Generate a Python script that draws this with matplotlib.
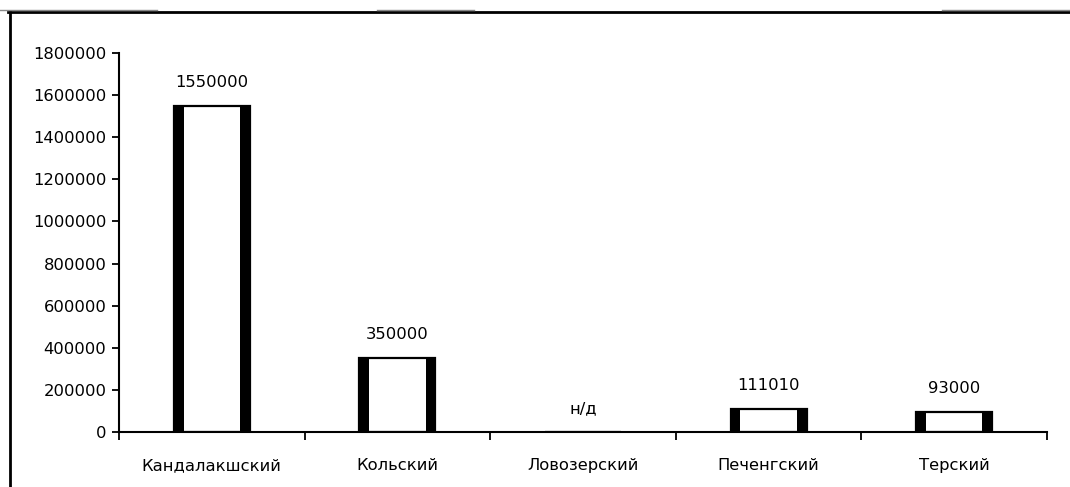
import matplotlib
matplotlib.use('Agg')
import numpy as np
from matplotlib import pyplot as plt
from matplotlib.lines import Line2D

plt.rcParams['font.family'] = ['DejaVu Sans']

districts = ['Кандалакшский', 'Кольский', 'Ловозерский', 'Печенгский', 'Терский']
values = [1550000, 350000, 0, 111010, 93000]
value_labels = ['1550000', '350000', 'н/д', '111010', '93000']
y_ticks = list(range(0, 1800001, 200000))

BAR_W = 0.41
SIDE_W = 0.053
FS = 11.8

fig = plt.figure(figsize=(10.70, 4.87), dpi=100)
ax = fig.add_axes([119 / 1070, 1 - 432 / 487, (1047 - 119) / 1070, (432 - 53) / 487])

x = np.arange(len(districts))
# white body with thin outline, then heavy black sides
ax.bar(x, values, width=BAR_W, color='white', edgecolor='black', linewidth=1.6, zorder=2)
ax.bar(x - BAR_W / 2 + SIDE_W / 2, values, width=SIDE_W, color='black', linewidth=0, zorder=3)
ax.bar(x + BAR_W / 2 - SIDE_W / 2, values, width=SIDE_W, color='black', linewidth=0, zorder=3)

for xi, v, lab in zip(x, values, value_labels):
    ax.annotate(lab, (xi, v), xytext=(0, 17), textcoords='offset points',
                ha='center', va='center', fontsize=FS)

ax.set_xlim(-0.5, len(districts) - 0.5)
ax.set_ylim(0, 1800000)
ax.set_yticks(y_ticks)
ax.set_yticklabels([str(t) for t in y_ticks], fontsize=FS)

ax.set_xticks(np.arange(len(districts) + 1) - 0.5)
ax.set_xticklabels([])
ax.set_xticks(x, minor=True)
ax.set_xticklabels(districts, minor=True, fontsize=FS)
ax.tick_params(axis='x', which='minor', length=0, pad=19)
ax.tick_params(axis='x', which='major', direction='out', length=6, width=1.3)
ax.tick_params(axis='y', direction='out', length=5, width=1.3, pad=4)

for side in ('top', 'right'):
    ax.spines[side].set_visible(False)
for side in ('left', 'bottom'):
    ax.spines[side].set_linewidth(1.5)

# outer chart frame (top and left edges only are visible in the crop)
fig.add_artist(Line2D([8 / 1070, 1], [1 - 12 / 487, 1 - 12 / 487], color='black', linewidth=2))
fig.add_artist(Line2D([10 / 1070, 10 / 1070], [0, 1 - 12 / 487], color='black', linewidth=2))
for x0, x1 in [(0, 157), (377, 474), (942, 1070)]:
    fig.add_artist(Line2D([x0 / 1070, x1 / 1070], [1 - 10 / 487] * 2, color='#888888', linewidth=1))

fig.savefig('out.png', dpi=100)
